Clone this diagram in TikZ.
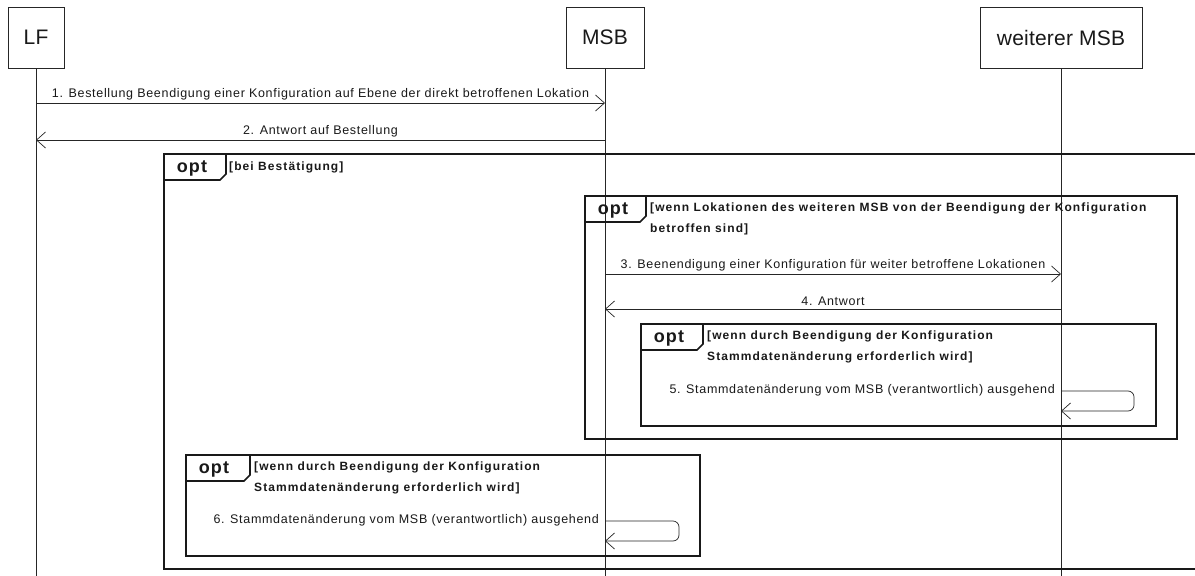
\documentclass[tikz,border=0pt]{standalone}
\usepackage{fontspec}
\setmainfont{Liberation Sans}
\newfontfamily\msgfont[LetterSpace=5.5]{Liberation Sans}
\newfontfamily\guardfont[LetterSpace=9]{Liberation Sans}
\newfontfamily\optfont[LetterSpace=6]{Liberation Sans}
\newfontfamily\actfont[LetterSpace=1]{Liberation Sans}
\usetikzlibrary{arrows.meta}
\begin{document}
\begin{tikzpicture}[x=1pt,y=-1pt,
  actor/.style={draw=black!85, line width=0.8pt, minimum height=61pt, inner sep=0pt, font=\actfont\fontsize{21}{24}\selectfont, text=black!90},
  life/.style={line width=0.7pt, draw=black!85},
  msg/.style={line width=0.7pt, draw=black!85, -{Straight Barb[length=9pt,width=16pt,line width=0.7pt]}},
  mlabel/.style={font=\msgfont\fontsize{12.5}{14}\selectfont, text=black!90, inner sep=0pt},
  frame/.style={line width=1.6pt, draw=black!90},
  optlabel/.style={font=\optfont\bfseries\fontsize{18}{20}\selectfont, text=black!90, inner sep=0pt},
  guard/.style={font=\guardfont\bfseries\fontsize{12}{21}\selectfont, text=black!90, align=left, anchor=north west, inner sep=0pt}
]
\useasboundingbox (0,0) rectangle (1195,576);
\fill[white] (0,0) rectangle (1195,576);

% participants
\node[actor, minimum width=56pt] (lf) at (36,37.5) {LF};
\node[actor, minimum width=78pt] (msb) at (605,37.5) {MSB};
\node[actor, minimum width=162pt] (wmsb) at (1061,37.5) {weiterer MSB};

\coordinate (lfend) at (36,576);
\coordinate (msbend) at (605,576);
\coordinate (wmsbend) at (1061,576);
\draw[life] (lf.south) -- (lfend);
\draw[life] (msb.south) -- (msbend);
\draw[life] (wmsb.south) -- (wmsbend);

% messages 1, 2
\coordinate (m1a) at (36,103); \coordinate (m1b) at (605,103);
\draw[msg] (m1a) -- node[mlabel, above=3pt] {1. Bestellung Beendigung einer Konfiguration auf Ebene der direkt betroffenen Lokation} (m1b);
\coordinate (m2a) at (605,140); \coordinate (m2b) at (36,140);
\draw[msg] (m2a) -- node[mlabel, above=3pt] {2. Antwort auf Bestellung} (m2b);

% outer frame
\draw[frame] (1200,154) -- (164,154) -- (164,569) -- (1200,569);
\draw[frame] (164,180) -- (220,180) -- (226,174) -- (226,154);
\node[optlabel] (opt1) at (192,168) {opt};
\node[guard] (g1) at (229,161.5) {[bei Bestätigung]};

% frame 2
\draw[frame] (585,196) rectangle (1177,439);
\draw[frame] (585,222) -- (640,222) -- (646,216) -- (646,196);
\node[optlabel] (opt2) at (613,210) {opt};
\node[guard] (g2) at (650,203) {[wenn Lokationen des weiteren MSB von der Beendigung der Konfiguration\\betroffen sind]};

\coordinate (m3a) at (605,274); \coordinate (m3b) at (1061,274);
\draw[msg] (m3a) -- node[mlabel, above=3pt] {3. Beenendigung einer Konfiguration für weiter betroffene Lokationen} (m3b);
\coordinate (m4a) at (1061,309); \coordinate (m4b) at (605,309);
\draw[msg] (m4a) -- node[mlabel, above=3pt] {4. Antwort} (m4b);

% frame 3
\draw[frame] (641,324) rectangle (1156,426);
\draw[frame] (641,350) -- (697,350) -- (703,344) -- (703,324);
\node[optlabel] (opt3) at (669,338) {opt};
\node[guard] (g3) at (707,331) {[wenn durch Beendigung der Konfiguration\\Stammdatenänderung erforderlich wird]};

\coordinate (s5a) at (1061,391); \coordinate (s5b) at (1061,411);
\draw[msg, rounded corners=6pt] (s5a) -- (1134,391) |- (s5b);
\node[mlabel, anchor=east] (l5) at (1055,390) {5. Stammdatenänderung vom MSB (verantwortlich) ausgehend};

% frame 4
\draw[frame] (186,455) rectangle (700,556);
\draw[frame] (186,481) -- (244,481) -- (250,475) -- (250,455);
\node[optlabel] (opt4) at (214,469) {opt};
\node[guard] (g4) at (254,462) {[wenn durch Beendigung der Konfiguration\\Stammdatenänderung erforderlich wird]};

\coordinate (s6a) at (605,521); \coordinate (s6b) at (605,541);
\draw[msg, rounded corners=6pt] (s6a) -- (679,521) |- (s6b);
\node[mlabel, anchor=east] (l6) at (599,520) {6. Stammdatenänderung vom MSB (verantwortlich) ausgehend};
\end{tikzpicture}
\end{document}
